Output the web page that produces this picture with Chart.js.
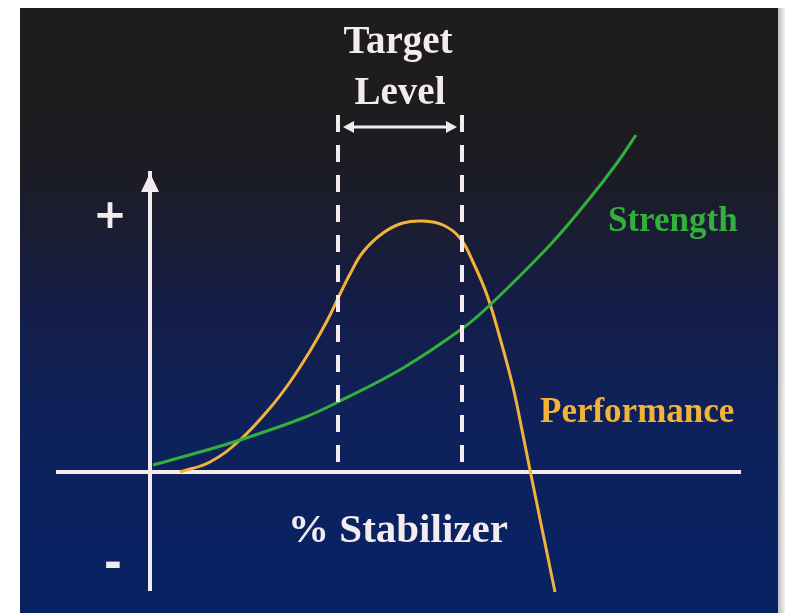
<!DOCTYPE html>
<html>
<head>
<meta charset="utf-8">
<script src="https://cdn.jsdelivr.net/npm/chart.js@4.4.1/dist/chart.umd.min.js"></script>
<style>
  html, body { margin: 0; padding: 0; background: #ffffff; }
  #wrap { position: relative; width: 785px; height: 613px; }
</style>
</head>
<body>
<div id="wrap"><canvas id="chart"></canvas></div>
<script>
// Values (x = % stabilizer, y = response, arbitrary units)
const performanceX = [3.0, 6.0, 9.0, 12.0, 14.0, 16.0, 17.7, 19.0, 20.0, 21.3, 23.3, 25.3, 27.3, 29.3, 31.0, 32.3, 33.7, 35.0, 36.3, 37.3, 38.0, 40.5]
const performanceY = [0.0, 1.0, 3.2, 6.4, 9.0, 12.1, 15.1, 17.8, 19.8, 22.0, 23.9, 24.9, 25.1, 24.7, 23.4, 21.0, 17.7, 13.4, 8.5, 3.7, 0.2, -12.0]

const strengthX = [0.3, 5.0, 9.0, 15.3, 18.8, 25.3, 31.3, 34.0, 40.0, 44.0, 46.7, 48.6]
const strengthY = [0.7, 2.0, 3.2, 5.4, 7.0, 10.4, 14.4, 16.7, 22.7, 27.4, 30.9, 33.7]

// target level window: dashed verticals
const targetX = [18.8, 31.2]
const targetY = [1.0, 35.9]
const targetArrowY = 34.5

const WHITE = "#f4ebee"
const ORANGE = "#f3b23a"
const GREEN = "#33b03c"
const SERIF = '"Liberation Serif", "Times New Roman", serif'
const SANS = '"DejaVu Sans", sans-serif'

const toPoints = (xs, ys) => xs.map((x, i) => ({ x: x, y: ys[i] }))

// photo background: dark top fading into navy
const backdrop = {
  id: "backdrop",
  beforeDraw(chart) {
    const ctx = chart.ctx
    ctx.save()
    ctx.fillStyle = "#ffffff"
    ctx.fillRect(0, 0, chart.width, chart.height)
    const g = ctx.createLinearGradient(0, 8, 0, 613)
    g.addColorStop(0, "#1e1d1c")
    g.addColorStop(0.23, "#1c1c21")
    g.addColorStop(0.35, "#1b1d30")
    g.addColorStop(0.48, "#151d46")
    g.addColorStop(0.65, "#0f2158")
    g.addColorStop(0.82, "#0b2260")
    g.addColorStop(1, "#082263")
    ctx.fillStyle = g
    ctx.fillRect(20, 8, 758, 605)
    const s = ctx.createLinearGradient(778, 0, 785, 0)
    s.addColorStop(0, "#bdbdbd")
    s.addColorStop(1, "#f2f2f2")
    ctx.fillStyle = s
    ctx.fillRect(778, 8, 7, 605)
    ctx.restore()
  },
}

// arrows and text labels
const annotations = {
  id: "annotations",
  afterDraw(chart) {
    const ctx = chart.ctx
    const xs = chart.scales.x
    const ys = chart.scales.y
    const area = chart.chartArea
    ctx.save()

    // y axis arrowhead
    const ax = xs.getPixelForValue(0)
    ctx.fillStyle = WHITE
    ctx.beginPath()
    ctx.moveTo(ax, area.top)
    ctx.lineTo(ax - 9, area.top + 19)
    ctx.lineTo(ax + 9, area.top + 19)
    ctx.closePath()
    ctx.fill()

    // target level double arrow
    const ay = ys.getPixelForValue(targetArrowY)
    const l = xs.getPixelForValue(targetX[0]) + 5
    const r = xs.getPixelForValue(targetX[1]) - 5
    ctx.strokeStyle = WHITE
    ctx.lineWidth = 3
    ctx.beginPath()
    ctx.moveTo(l + 4, ay)
    ctx.lineTo(r - 4, ay)
    ctx.stroke()
    ctx.beginPath()
    ctx.moveTo(l, ay)
    ctx.lineTo(l + 11, ay - 6)
    ctx.lineTo(l + 11, ay + 6)
    ctx.closePath()
    ctx.moveTo(r, ay)
    ctx.lineTo(r - 11, ay - 6)
    ctx.lineTo(r - 11, ay + 6)
    ctx.closePath()
    ctx.fill()

    ctx.textBaseline = "middle"
    ctx.textAlign = "center"
    ctx.fillStyle = WHITE
    ctx.font = "bold 39px " + SERIF
    ctx.fillText("Target", 398, 43)
    ctx.fillText("Level", 400, 94)
    ctx.font = "bold 41px " + SERIF
    ctx.fillText("% Stabilizer", 398, 531)
    ctx.font = "bold 40px " + SANS
    ctx.fillText("+", 110, 218)
    ctx.font = "bold 44px " + SANS
    ctx.fillText("-", 113, 567)

    ctx.textAlign = "left"
    ctx.font = "bold 35px " + SERIF
    ctx.fillStyle = GREEN
    ctx.fillText("Strength", 608, 222)
    ctx.fillStyle = ORANGE
    ctx.fillText("Performance", 540, 413)
    ctx.restore()
  },
}

const dashed = {
  borderColor: WHITE,
  borderWidth: 4,
  borderDash: [17, 13],
  pointRadius: 0,
  fill: false,
  clip: false,
}

new Chart(document.getElementById("chart").getContext("2d"), {
  type: "line",
  data: {
    datasets: [
      Object.assign({ label: "Target low", data: toPoints([targetX[0], targetX[0]], targetY) }, dashed),
      Object.assign({ label: "Target high", data: toPoints([targetX[1], targetX[1]], targetY) }, dashed),
      {
        label: "Strength",
        data: toPoints(strengthX, strengthY),
        borderColor: GREEN,
        borderWidth: 3,
        pointRadius: 0,
        tension: 0.4,
        clip: false,
      },
      {
        label: "Performance",
        data: toPoints(performanceX, performanceY),
        borderColor: ORANGE,
        borderWidth: 3,
        pointRadius: 0,
        tension: 0.4,
        clip: false,
      },
    ],
  },
  options: {
    responsive: true,
    maintainAspectRatio: false,
    animation: false,
    layout: {
      padding: { left: 58, right: 45, top: 173, bottom: 23 },
    },
    plugins: {
      legend: { display: false },
      tooltip: { enabled: false },
    },
    scales: {
      x: {
        type: "linear",
        min: -9.2,
        max: 59,
        position: { y: 0 },
        grid: { display: false },
        ticks: { display: false },
        border: { display: true, color: WHITE, width: 4 },
      },
      y: {
        type: "linear",
        min: -11.8,
        max: 29.9,
        position: { x: 0 },
        grid: { display: false },
        ticks: { display: false },
        border: { display: true, color: WHITE, width: 4 },
      },
    },
  },
  plugins: [backdrop, annotations],
})
</script>
</body>
</html>
